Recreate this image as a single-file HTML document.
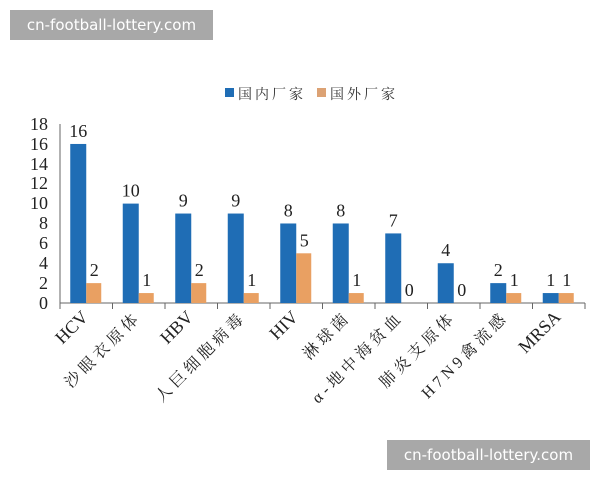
<!DOCTYPE html>
<html><head><meta charset="utf-8"><style>
body{margin:0;background:#fff;width:600px;height:480px;overflow:hidden;position:relative}
.wm{position:absolute;background:#a8a8a8;color:#fff;font-family:"DejaVu Sans","Liberation Sans",sans-serif;font-size:15px;text-align:center;line-height:30px;height:30px;width:203px}
</style></head><body>
<svg width="600" height="480" style="position:absolute;left:0;top:0" font-family="Liberation Serif, Noto Serif CJK SC, serif">
<rect x="225" y="88" width="9" height="9" fill="#1f6db5"/>
<text x="238" y="99" font-size="14" fill="#333" letter-spacing="3">国内厂家</text>
<rect x="317" y="88" width="9" height="9" fill="#dca274"/>
<text x="330" y="99" font-size="14" fill="#333" letter-spacing="3">国外厂家</text>
<g font-size="18" fill="#222" text-anchor="end">
<text x="48" y="309">0</text><text x="48" y="289">2</text><text x="48" y="269">4</text><text x="48" y="249">6</text><text x="48" y="229">8</text><text x="48" y="209">10</text><text x="48" y="189">12</text><text x="48" y="170">14</text><text x="48" y="150">16</text><text x="48" y="130">18</text>
</g>
<line x1="60" y1="124" x2="60" y2="303" stroke="#666"/>
<line x1="60" y1="303" x2="585" y2="303" stroke="#666"/>
<g stroke="#666">
<line x1="60" y1="303" x2="60" y2="309"/><line x1="112.5" y1="303" x2="112.5" y2="309"/><line x1="165" y1="303" x2="165" y2="309"/><line x1="217.5" y1="303" x2="217.5" y2="309"/><line x1="270" y1="303" x2="270" y2="309"/><line x1="322.5" y1="303" x2="322.5" y2="309"/><line x1="375" y1="303" x2="375" y2="309"/><line x1="427.5" y1="303" x2="427.5" y2="309"/><line x1="480" y1="303" x2="480" y2="309"/><line x1="532.5" y1="303" x2="532.5" y2="309"/><line x1="585" y1="303" x2="585" y2="309"/>
</g>
<g id="bars"></g>
<g id="labs"></g>
</svg>
<div class="wm" style="left:10px;top:10px">cn-football-lottery.com</div>
<div class="wm" style="left:387px;top:440px">cn-football-lottery.com</div>
<script>
var d=[["HCV",16,2],["沙眼衣原体",10,1],["HBV",9,2],["人巨细胞病毒",9,1],["HIV",8,5],["淋球菌",8,1],["α-地中海贫血",7,0],["肺炎支原体",4,0],["H7N9禽流感",2,1],["MRSA",1,1]];
var ns="http://www.w3.org/2000/svg",b=document.getElementById("bars"),l=document.getElementById("labs");
function el(t,a,p,tx){var e=document.createElementNS(ns,t);for(var k in a)e.setAttribute(k,a[k]);if(tx!==undefined)e.textContent=tx;p.appendChild(e);return e;}
var u=9.94;
d.forEach(function(r,i){var c=86.25+52.5*i;
el("rect",{x:c-16,y:303-r[1]*u,width:16,height:r[1]*u,fill:"#1f6db5"},b);
if(r[2])el("rect",{x:c,y:303-r[2]*u,width:15,height:r[2]*u,fill:"#e9a062"},b);
el("text",{x:c-8,y:303-r[1]*u-7,"font-size":18,"text-anchor":"middle",fill:"#222"},b,r[1]);
el("text",{x:c+8,y:303-r[2]*u-7,"font-size":18,"text-anchor":"middle",fill:"#222"},b,r[2]);
var cjk=/[\u4e00-\u9fff]/.test(r[0]);
el("text",{x:0,y:0,"font-size":cjk?16:18,"letter-spacing":cjk?4:0,"text-anchor":"end",fill:"#222",transform:"translate("+(c+3)+",318) rotate(-45)"},l,r[0]);
});
</script>
</body></html>
